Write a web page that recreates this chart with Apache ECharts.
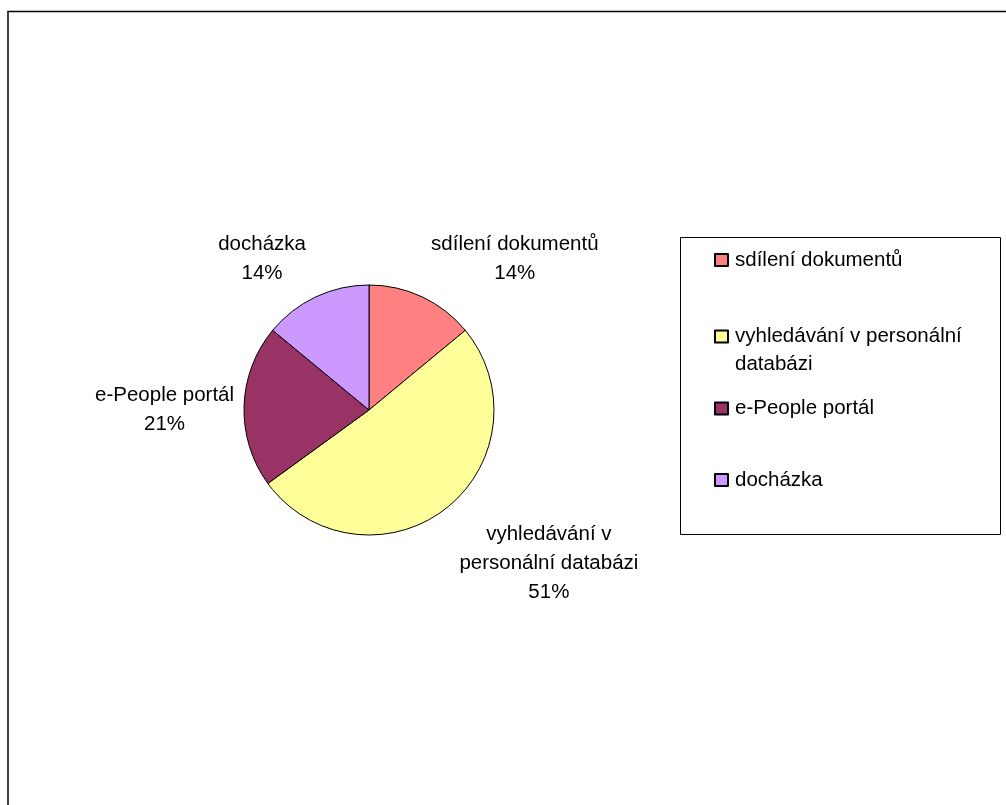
<!DOCTYPE html>
<html>
<head>
<meta charset="utf-8">
<script src="https://cdn.jsdelivr.net/npm/echarts@6/dist/echarts.min.js"></script>
<style>
  html, body { margin: 0; padding: 0; background: #fff; }
  #chart { width: 1006px; height: 805px; }
</style>
</head>
<body>
<div id="chart"></div>
<script>
// Slices, in drawing order (clockwise from 12 o'clock)
const categories = ['sdílení dokumentů', 'vyhledávání v personální databázi', 'e-People portál', 'docházka'];
const shares = [14, 51, 21, 14];

// Wrapped text for the slice labels and the legend entries
const sliceLabelText = ['sdílení dokumentů', 'vyhledávání v\npersonální databázi', 'e-People portál', 'docházka'];
const legendText = ['sdílení dokumentů', 'vyhledávání v personální\ndatabázi', 'e-People portál', 'docházka'];

const sliceColors = ['#FF8080', '#FFFF99', '#993366', '#CC99FF'];

// Layout / style settings
const FONT = '"Liberation Sans", Arial, Helvetica, sans-serif';
const FONT_SIZE = 20.5;
const PIE_CX = 369, PIE_CY = 410, PIE_R = 125;
const LABEL_GAP = 16;
const labelNudge = [[2, 5], [4, -2], [6, 7], [-3, 5]];
const legendMarkerY = [260, 336.5, 408.5, 480];
const LEGEND_LINE_H = 28;

const total = shares.reduce((a, b) => a + b, 0);
function midAngle(i) {
  let before = 0;
  for (let k = 0; k < i; k++) before += shares[k];
  return (before + shares[i] / 2) / total * 2 * Math.PI;
}
const clamp = v => Math.max(-1, Math.min(1, v));

// One legend block per entry so each marker sits beside the first line of its text
const legends = categories.map((name, i) => {
  const lines = legendText[i].split('\n').length;
  return {
    show: true,
    selectedMode: false,
    orient: 'vertical',
    left: 714,
    top: legendMarkerY[i] - LEGEND_LINE_H * (2 * lines - 1) / 2,
    padding: 0,
    itemGap: 0,
    itemWidth: 13,
    itemHeight: 12,
    icon: 'rect',
    data: [name],
    formatter: () => '\n'.repeat(lines - 1) + legendText[i],
    textStyle: { fontFamily: FONT, fontSize: FONT_SIZE, lineHeight: LEGEND_LINE_H, color: '#000', padding: [0, 0, 0, 2] }
  };
});

const chart = echarts.init(document.getElementById('chart'), null, { renderer: 'canvas' });

chart.setOption({
  backgroundColor: '#fff',
  animation: false,
  legend: legends,
  graphic: [
    {
      type: 'rect',
      shape: { x: 8, y: 11.5, width: 1100, height: 900 },
      style: { fill: 'none', stroke: '#000', lineWidth: 1.5 },
      silent: true
    },
    {
      type: 'rect',
      shape: { x: 680.5, y: 237.5, width: 320, height: 297 },
      style: { fill: 'none', stroke: '#000', lineWidth: 1 },
      silent: true
    }
  ],
  series: [{
    type: 'pie',
    center: [PIE_CX, PIE_CY],
    radius: PIE_R,
    startAngle: 90,
    clockwise: true,
    percentPrecision: 0,
    avoidLabelOverlap: false,
    silent: true,
    emphasis: { disabled: true },
    itemStyle: { borderColor: '#000', borderWidth: 1 },
    data: categories.map((name, i) => ({
      name,
      value: shares[i],
      itemStyle: { color: sliceColors[i] }
    })),
    label: {
      show: true,
      position: 'outside',
      formatter: p => sliceLabelText[p.dataIndex] + '\n' + p.percent + '%',
      fontFamily: FONT,
      fontSize: FONT_SIZE,
      lineHeight: 29,
      color: '#000',
      align: 'center'
    },
    labelLine: { show: false },
    labelLayout: p => {
      const i = p.dataIndex;
      const a = midAngle(i);
      const s = Math.sin(a), c = Math.cos(a);
      const ax = PIE_CX + (PIE_R + LABEL_GAP) * s;
      const ay = PIE_CY - (PIE_R + LABEL_GAP) * c;
      const hw = p.labelRect.width / 2, hh = p.labelRect.height / 2;
      return {
        x: ax + hw * clamp(3 * s) + labelNudge[i][0],
        y: ay - hh * clamp(3 * c) + labelNudge[i][1],
        align: 'center',
        verticalAlign: 'middle'
      };
    }
  }]
});
</script>
</body>
</html>
